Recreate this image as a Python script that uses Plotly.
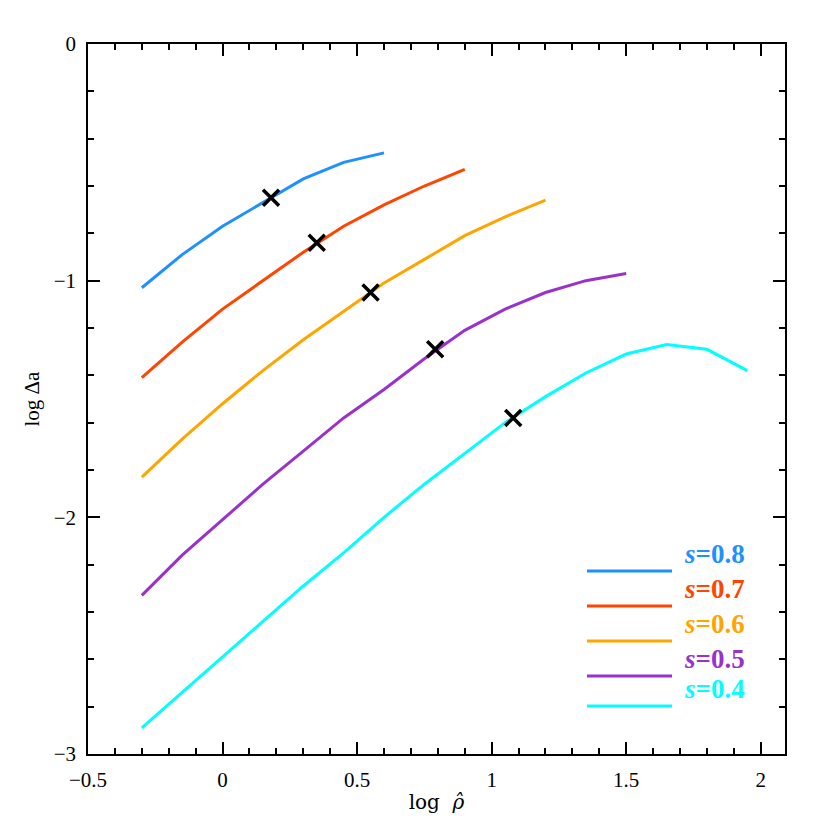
import plotly.graph_objects as go

# log rho-hat grid and log delta-a values for each s
x_grid = [-0.3, -0.15, 0, 0.15, 0.3, 0.45, 0.6, 0.75, 0.9, 1.05, 1.2, 1.35, 1.5, 1.65, 1.8, 1.95]
s_labels = ["0.8", "0.7", "0.6", "0.5", "0.4"]
colors = ["#1E90FF", "#FF4500", "#FFA500", "#9932CC", "#00FFFF"]
y_s08 = [-1.03, -0.89, -0.77, -0.67, -0.57, -0.50, -0.46]
y_s07 = [-1.41, -1.26, -1.12, -1.00, -0.88, -0.77, -0.68, -0.60, -0.53]
y_s06 = [-1.83, -1.67, -1.52, -1.38, -1.25, -1.13, -1.01, -0.91, -0.81, -0.73, -0.66]
y_s05 = [-2.33, -2.16, -2.01, -1.86, -1.72, -1.58, -1.46, -1.33, -1.21, -1.12, -1.05, -1.00, -0.97]
y_s04 = [-2.89, -2.74, -2.59, -2.44, -2.29, -2.15, -2.00, -1.86, -1.73, -1.60, -1.49, -1.39, -1.31, -1.27, -1.29, -1.38]
cross_x = [0.18, 0.35, 0.55, 0.79, 1.08]
cross_y = [-0.65, -0.84, -1.05, -1.29, -1.58]

font = "Liberation Serif"
fig = go.Figure()
for ys, c in zip([y_s08, y_s07, y_s06, y_s05, y_s04], colors):
    fig.add_trace(go.Scatter(x=x_grid[:len(ys)], y=ys, mode="lines",
                             line=dict(color=c, width=3), showlegend=False))
fig.add_trace(go.Scatter(x=cross_x, y=cross_y, mode="markers", showlegend=False,
                         marker=dict(symbol="x-thin", size=16, line=dict(color="black", width=3.5))))

# legend drawn by hand, lower right
row_px = [571, 606, 641, 676, 706]
for lab, c, py in zip(s_labels, colors, row_px):
    yp = (754 - py) / 710
    fig.add_shape(type="line", xref="paper", yref="paper", x0=(587 - 88) / 697, x1=(672 - 88) / 697,
                  y0=yp, y1=yp, line=dict(color=c, width=3))
    fig.add_annotation(xref="paper", yref="paper", x=(682 - 88) / 697, y=yp, xanchor="left",
                       showarrow=False, text="<b><i>s</i>=" + lab + "</b>",
                       font=dict(family=font, size=27, color=c))

axis = dict(showgrid=False, zeroline=False, mirror="allticks", ticks="inside", showline=True,
            linecolor="black", linewidth=1.5, tickcolor="black", ticklen=12, tickwidth=1.5,
            ticklabelstandoff=6,
            tickfont=dict(family=font, size=21, color="black"))
fig.update_xaxes(axis, range=[-0.5, 2.09], dtick=0.5, tick0=0,
                 minor=dict(dtick=0.1, ticks="inside", ticklen=6, tickcolor="black"),
                 title=dict(text="log  <i>ρ̂</i>", font=dict(family="DejaVu Serif", size=20, color="black"), standoff=4))
fig.update_yaxes(axis, range=[-3, 0], dtick=1, tick0=0,
                 minor=dict(dtick=0.2, ticks="inside", ticklen=6, tickcolor="black"),
                 title=dict(text="log Δa", font=dict(family=font, size=21, color="black"), standoff=8))
fig.update_layout(width=830, height=830, plot_bgcolor="white", paper_bgcolor="white",
                  margin=dict(l=80, r=53, t=36, b=84))
fig.write_html("out.html")
